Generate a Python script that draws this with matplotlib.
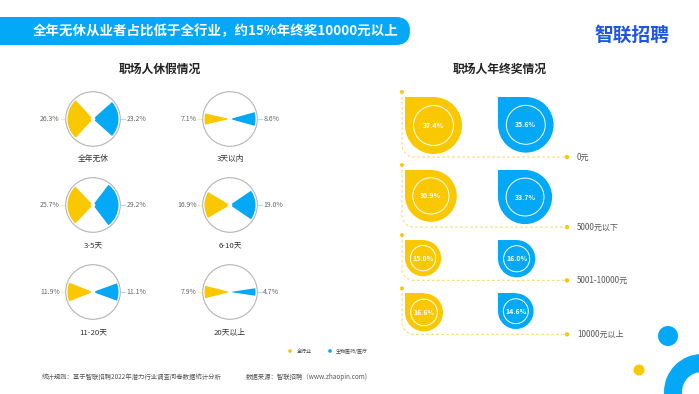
import numpy as np
import matplotlib
matplotlib.use("Agg")
import matplotlib.pyplot as plt
from matplotlib.patches import Wedge, Circle, Rectangle, FancyBboxPatch

plt.rcParams['font.family'] = ['Noto Sans CJK SC', 'DejaVu Sans']

# ---------------- data ----------------
title_text = "全年无休从业者占比低于全行业，约15%年终奖10000元以上"
rest_categories = ['全年无休', '3天以内', '3-5天', '6-10天', '11-20天', '20天以上']
rest_all = [26.3, 7.1, 25.7, 16.9, 11.9, 7.9]
rest_bio = [23.2, 8.6, 29.2, 19.0, 11.1, 4.7]
bonus_categories = ['0元', '5000元以下', '5001-10000元', '10000元以上']
bonus_all = [37.4, 30.9, 15.0, 16.6]
bonus_bio = [35.6, 33.7, 16.0, 14.6]
series_names = ['全行业', '生物医药/医疗']

YEL = '#FAC800'
BLU = '#03A8F6'
GRAY = '#666666'

W, H = 699, 394
fig = plt.figure(figsize=(W / 100, H / 100), dpi=100)
ax = fig.add_axes([0, 0, 1, 1])
ax.set_xlim(0, W)
ax.set_ylim(H, 0)
ax.axis('off')

# ---------------- header ----------------
ax.add_patch(FancyBboxPatch((-30, 17), 440, 28, boxstyle="round,pad=0,rounding_size=14",
                            fc=BLU, ec='none'))
ax.text(33, 31, title_text, color='white', fontsize=9.7, fontweight='bold', va='center', ha='left')
ax.text(632, 35, '智联招聘', color='#1E55E6', fontsize=13.5, fontweight='bold', va='center', ha='center')

# section titles
ax.text(160, 69, '职场人休假情况', fontsize=8.5, fontweight='bold', color='#222222', ha='center', va='center')
ax.text(500, 69, '职场人年终奖情况', fontsize=8.5, fontweight='bold', color='#222222', ha='center', va='center')

# ---------------- rest pies ----------------
col_x = [93, 230]
row_y = [119, 205, 292]
R_c, R_w = 27.3, 25.5
for i, cat in enumerate(rest_categories):
    cx = col_x[i % 2]
    cy = row_y[i // 2]
    ax.add_patch(Circle((cx, cy), R_c, fc='white', ec='#B5B5B5', lw=0.8))
    a = rest_all[i] * 1.8
    b = rest_bio[i] * 1.8
    ax.add_patch(Wedge((cx, cy), R_w, 180 - a, 180 + a, fc=YEL, ec='none'))
    ax.add_patch(Wedge((cx, cy), R_w, -b, b, fc=BLU, ec='none'))
    ax.add_patch(Circle((cx, cy), 2.3, fc='white', ec='none'))
    ax.plot([cx - R_c - 1, cx - R_c - 5], [cy, cy], color=YEL, alpha=0.35, lw=0.8)
    ax.plot([cx + R_c + 1, cx + R_c + 5], [cy, cy], color=BLU, alpha=0.35, lw=0.8)
    ax.text(cx - R_c - 6, cy, f'{rest_all[i]:.1f}%', fontsize=5, color=GRAY, ha='right', va='center')
    ax.text(cx + R_c + 6, cy, f'{rest_bio[i]:.1f}%', fontsize=5, color=GRAY, ha='left', va='center')
    ax.text(cx, cy + 40, cat, fontsize=5.6, color='#333333', ha='center', va='center')

# legend
ax.add_patch(Circle((290, 351), 1.8, fc=YEL, ec='none'))
ax.text(297, 351, series_names[0], fontsize=3.6, color='#444444', va='center', ha='left')
ax.add_patch(Circle((330, 351), 1.8, fc=BLU, ec='none'))
ax.text(336, 351, series_names[1], fontsize=3.6, color='#444444', va='center', ha='left')

# footer
ax.text(42, 377, '统计规则：基于智联招聘2022年潜力行业调查问卷数据统计分析', fontsize=4.6, color='#555555',
        va='center', ha='left')
ax.text(246, 377, '数据来源：智联招聘（www.zhaopin.com)', fontsize=4.6, color='#555555', va='center', ha='left')

# ---------------- bonus drops ----------------
k = 28.5 / np.sqrt(37.4)
x_yel, x_blu = 405, 498
line_x, end_x = 402, 567
rc = 12
LINE_C = '#F7D260'


def drop(x0, y0, r, color, val):
    cx, cy = x0 + r, y0 + r
    ax.add_patch(Circle((cx, cy), r, fc=color, ec='none'))
    ax.add_patch(Rectangle((x0, y0), r, r, fc=color, ec='none'))
    ax.add_patch(Circle((cx, cy), 0.7 * r, fc='none', ec='white', lw=0.7))
    ax.text(cx, cy, f'{val:.1f}%', fontsize=5, color='white', fontweight='bold', ha='center', va='center')


dot_y = 92
for i, cat in enumerate(bonus_categories):
    ra = k * np.sqrt(bonus_all[i])
    rb = k * np.sqrt(bonus_bio[i])
    top = dot_y + 5
    line_y = top + 2 * max(ra, rb) + 3
    # connector
    t = np.linspace(np.pi, np.pi / 2, 20)
    xs = np.concatenate([[line_x], line_x + rc + rc * np.cos(t), [end_x]])
    ys = np.concatenate([[dot_y], line_y - rc + rc * np.sin(t), [line_y]])
    ax.plot(xs, ys, color=LINE_C, lw=0.8, ls=(0, (2.5, 2)), alpha=0.8)
    ax.add_patch(Circle((line_x, dot_y), 2.0, fc=YEL, ec='none'))
    ax.add_patch(Circle((end_x, line_y), 2.2, fc=YEL, ec='none'))
    ax.text(577, line_y, cat, fontsize=5.8, color='#555555', va='center', ha='left')
    drop(x_yel, top, ra, YEL, bonus_all[i])
    drop(x_blu, top, rb, BLU, bonus_bio[i])
    dot_y = line_y + 8

# ---------------- decorations ----------------
ax.add_patch(Circle((668, 336), 10, fc=BLU, ec='none'))
ax.add_patch(Circle((639, 370), 5.5, fc=YEL, ec='none'))
ax.add_patch(Wedge((702, 392), 38, 0, 360, width=18, fc=BLU, ec='none'))

fig.savefig('out.png', dpi=100)
